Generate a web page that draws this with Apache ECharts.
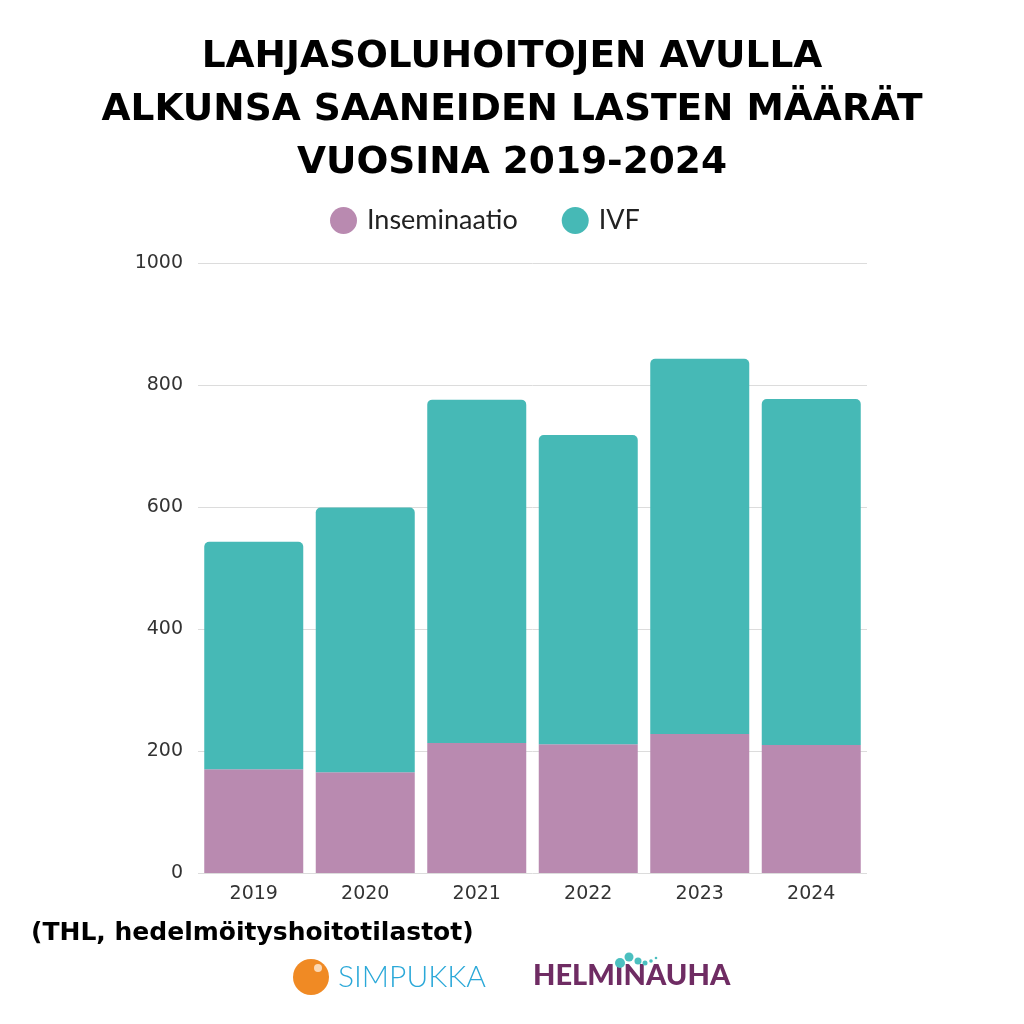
<!DOCTYPE html>
<html lang="fi">
<head>
<meta charset="utf-8">
<title>Lahjasoluhoidot</title>
<script src="https://cdn.jsdelivr.net/npm/echarts@6/dist/echarts.min.js"></script>
<style>
  html, body { margin: 0; padding: 0; background: #fff; }
  #chart { width: 1024px; height: 1024px; }
</style>
</head>
<body>
<div id="chart"></div>
<script>
// vuodet ja arvot (luettu kuvasta)
var years = ['2019', '2020', '2021', '2022', '2023', '2024'];
var inseminaatio = [170, 165, 213, 211, 228, 210];
var ivf = [373, 434, 563, 507, 615, 567];
var yTicks = [0, 200, 400, 600, 800, 1000];

var titleLines = 'LAHJASOLUHOITOJEN AVULLA\nALKUNSA SAANEIDEN LASTEN MÄÄRÄT\nVUOSINA 2019-2024';

var chart = echarts.init(document.getElementById('chart'), null, { renderer: 'canvas' });

var option = {
    backgroundColor: '#ffffff',
    animation: false,
    title: {
        text: titleLines,
        left: 'center',
        top: 26,
        textStyle: {
            fontFamily: 'DejaVu Sans',
            fontWeight: 'bold',
            fontSize: 37.5,
            lineHeight: 53,
            color: '#000'
        }
    },
    legend: {
        data: ['Inseminaatio', 'IVF'],
        top: 202,
        left: 325,
        icon: 'circle',
        itemWidth: 27,
        itemHeight: 27,
        itemGap: 44,
        textStyle: { fontFamily: 'Lato', fontSize: 27, color: '#222', padding: [0, 0, 0, 5] }
    },
    grid: { left: 198, right: 157, top: 263, bottom: 151 },
    xAxis: {
        type: 'category',
        data: years,
        axisLine: { show: false },
        axisTick: { show: false },
        axisLabel: { fontFamily: 'DejaVu Sans', fontSize: 19, color: '#333', margin: 12 }
    },
    yAxis: {
        type: 'value',
        min: yTicks[0],
        max: yTicks[yTicks.length - 1],
        interval: 200,
        axisLine: { show: false },
        axisTick: { show: false },
        axisLabel: {
            fontFamily: 'DejaVu Sans', fontSize: 19, color: '#333', margin: 15,
            formatter: function (v) { return String(v); }
        },
        splitLine: { lineStyle: { color: '#dcdcdc', width: 1 } }
    },
    series: [
        {
            name: 'Inseminaatio',
            type: 'bar',
            stack: 'lapset',
            data: inseminaatio,
            barWidth: 99,
            itemStyle: { color: '#b98ab0' }
        },
        {
            name: 'IVF',
            type: 'bar',
            stack: 'lapset',
            data: ivf,
            barWidth: 99,
            itemStyle: { color: '#46b9b6', borderRadius: [5, 5, 0, 0] }
        }
    ],
    graphic: [
        {
            type: 'text',
            left: 31,
            top: 921,
            style: {
                text: '(THL, hedelmöityshoitotilastot)',
                fontFamily: 'DejaVu Sans',
                fontWeight: 'bold',
                fontSize: 25,
                fill: '#000'
            }
        },
        // Simpukka-logo
        { type: 'circle', shape: { cx: 311, cy: 977, r: 18 }, style: { fill: '#f08a24' } },
        { type: 'circle', shape: { cx: 318, cy: 968, r: 4 }, style: { fill: '#fbd8b4' } },
        {
            type: 'text', left: 338, top: 962,
            style: { text: 'SIMPUKKA', fontFamily: 'Lato', fontWeight: 300, fontSize: 30, fill: '#2aa8d8' }
        },
        // Helminauha-logo
        {
            type: 'text', left: 533, top: 961,
            style: { text: 'HELMINAUHA', fontFamily: 'Lato', fontWeight: 900, fontSize: 29, fill: '#6f2c63' }
        },
        { type: 'circle', shape: { cx: 620, cy: 963, r: 5 }, style: { fill: '#4bbfbf' } },
        { type: 'circle', shape: { cx: 629, cy: 957, r: 4.5 }, style: { fill: '#4bbfbf' } },
        { type: 'circle', shape: { cx: 638, cy: 961, r: 3.5 }, style: { fill: '#4bbfbf' } },
        { type: 'circle', shape: { cx: 645, cy: 963, r: 2.5 }, style: { fill: '#4bbfbf' } },
        { type: 'circle', shape: { cx: 651, cy: 961, r: 1.8 }, style: { fill: '#4bbfbf' } },
        { type: 'circle', shape: { cx: 656, cy: 958, r: 1.3 }, style: { fill: '#4bbfbf' } }
    ]
};

chart.setOption(option);
window.addEventListener('resize', chart.resize);
</script>
</body>
</html>
